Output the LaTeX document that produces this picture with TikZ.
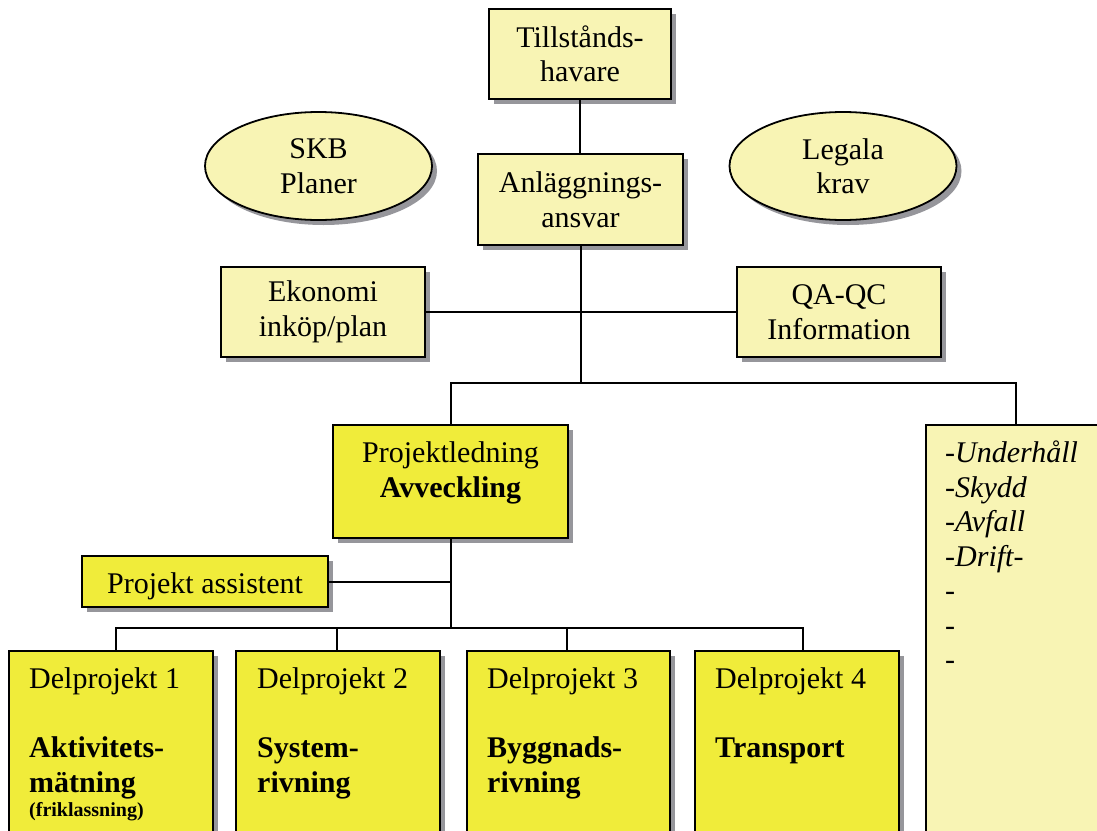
\documentclass[tikz,border=0pt]{standalone}
\usepackage{fontspec}
\setmainfont{Liberation Serif}
\usetikzlibrary{shapes.geometric,shadows}
\definecolor{paleyel}{RGB}{248,244,180}
\definecolor{brightyel}{RGB}{240,236,58}
\definecolor{shadowgray}{RGB}{150,150,155}
\begin{document}
\begin{tikzpicture}[x=1pt,y=-1pt,
  sh/.style={drop shadow={shadow xshift=5pt,shadow yshift=-5pt,fill=shadowgray,opacity=1}},
  pbox/.style={rectangle,draw=black,line width=2.3pt,fill=paleyel,sh,inner sep=0pt,align=center,font=\fontsize{30}{34.5}\selectfont},
  ybox/.style={pbox,fill=brightyel},
  oval/.style={ellipse,draw=black,line width=1.8pt,fill=paleyel,sh,inner sep=0pt,align=center,font=\fontsize{30}{34.5}\selectfont},
  txt/.style={inner sep=0pt,font=\fontsize{30}{34.5}\selectfont},
  conn/.style={line width=2pt,draw=black}
]
\useasboundingbox (0,0) rectangle (1097,830);
\fill[white] (0,0) rectangle (1097,830);
\clip (0,0) rectangle (1097,830);

% upper boxes
\node[pbox,minimum width=182pt,minimum height=90pt] (til) at (580,54) {Tillstånds-\\havare};
\node[pbox,minimum width=205pt,minimum height=91pt] (anl) at (580.5,199.5) {Anläggnings-\\ansvar};
\node[oval,minimum width=227pt,minimum height=108pt] (skb) at (318.5,166) {SKB\\Planer};
\node[oval,minimum width=227pt,minimum height=108pt] (leg) at (843,166) {Legala\\krav};
\node[pbox,minimum width=204pt,minimum height=90pt] (eko) at (323,312) {Ekonomi\\inköp/plan};
\node[pbox,minimum width=204pt,minimum height=90pt] (qa) at (839,312) {QA-QC\\Information};

% project leadership
\node[ybox,minimum width=235pt,minimum height=113pt] (pl) at (450.5,481.5) {};
\node[txt,anchor=north,align=center] (plt) at (450.5,441.5) {Projektledning\\\textbf{Avveckling}};
\node[pbox,minimum width=180pt,minimum height=440pt] (rb) at (1016,645) {};
\node[txt,anchor=north west,align=left,font=\fontsize{30}{34.5}\selectfont\itshape] (rbt) at (945,441) {-Underhåll\\-Skydd\\-Avfall\\-Drift-\\-\\-\\-};
\node[ybox,minimum width=246pt,minimum height=51pt,text height=23pt,text depth=0pt] (pa) at (205,581.5) {Projekt assistent};

% sub-projects
\node[ybox,minimum width=204pt,minimum height=220pt] (d1) at (111,761) {};
\node[ybox,minimum width=204pt,minimum height=220pt] (d2) at (338,761) {};
\node[ybox,minimum width=203pt,minimum height=220pt] (d3) at (568.5,761) {};
\node[ybox,minimum width=204pt,minimum height=220pt] (d4) at (797,761) {};
\node[txt,anchor=north west,align=left] (d1t) at (29,667.5) {Delprojekt 1\\[34.5pt]\textbf{Aktivitets-}\\\textbf{mätning}\\[-10.5pt]{\fontsize{20}{24}\selectfont\textbf{(friklassning)}}};
\node[txt,anchor=north west,align=left] (d2t) at (257,667.5) {Delprojekt 2\\[34.5pt]\textbf{System-}\\\textbf{rivning}};
\node[txt,anchor=north west,align=left] (d3t) at (487,667.5) {Delprojekt 3\\[34.5pt]\textbf{Byggnads-}\\\textbf{rivning}};
\node[txt,anchor=north west,align=left] (d4t) at (715,667.5) {Delprojekt 4\\[34.5pt]\textbf{Transport}};

% connectors
\coordinate (bus) at (580.5,383);
\coordinate (b1) at (116,628);
\coordinate (b2) at (337,628);
\coordinate (b3) at (567,628);
\coordinate (b4) at (803,628);
\draw[conn] (til.south) -- (til.south |- anl.north);
\draw[conn] (anl.south) -- (bus);
\draw[conn] (eko.east) -- (qa.west);
\draw[conn] (pl.north) |- (bus) -| (rb.north);
\draw[conn] (pl.south) -- (pl.south |- b1);
\draw[conn] (pa.east) -- (pa.east -| pl.south);
\draw[conn] (b1 |- d1.north) -- (b1) -- (b4) -- (b4 |- d4.north);
\draw[conn] (b2) -- (b2 |- d2.north);
\draw[conn] (b3) -- (b3 |- d3.north);
\end{tikzpicture}
\end{document}
